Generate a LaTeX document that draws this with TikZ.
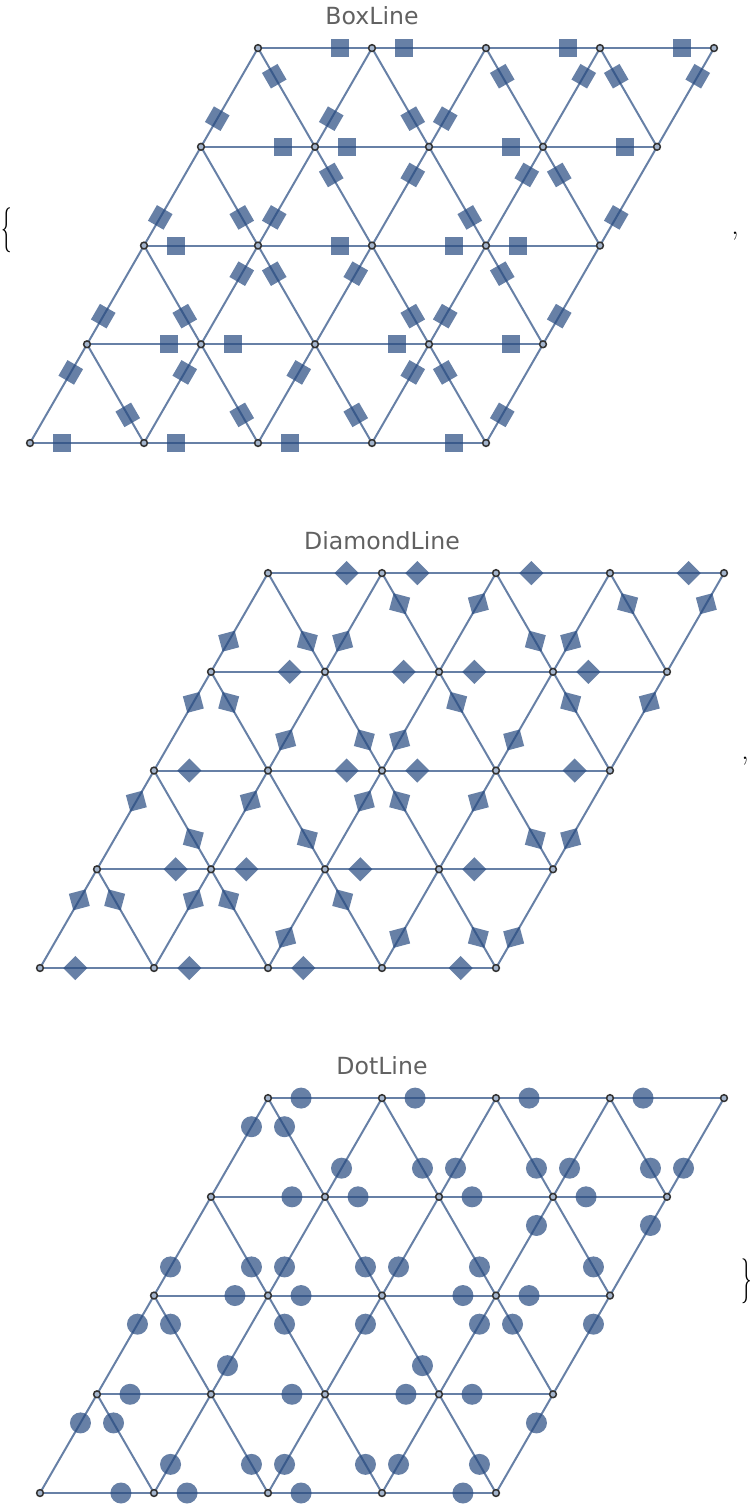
\documentclass[tikz,border=0pt]{standalone}
\usepackage{fontspec}
\usepackage{tikz}
\usetikzlibrary{shapes.geometric}
\newfontfamily\labelfont{DejaVu Sans}
\definecolor{edgeblue}{rgb}{0.15,0.29,0.5}
\definecolor{vertfill}{rgb}{0.64,0.704,0.8}
\definecolor{titlegray}{gray}{0.38}
\tikzset{
  edge/.style={line width=1pt,draw=edgeblue,draw opacity=0.7},
  vert/.style={circle,inner sep=0pt,minimum size=3.4pt,fill=vertfill,draw=black!80,line width=0.75pt},
  boxmark/.style={rectangle,sloped,inner sep=0pt,minimum size=9pt,fill=edgeblue,fill opacity=0.7},
  diamark/.style={diamond,aspect=1,sloped,inner sep=0pt,minimum size=12.5pt,fill=edgeblue,fill opacity=0.7},
  dotmark/.style={circle,inner sep=0pt,minimum size=10.5pt,fill=edgeblue,fill opacity=0.7},
  title/.style={font=\labelfont\fontsize{11.8}{14}\selectfont,text=titlegray,anchor=base},
  delim/.style={font=\fontsize{15}{18}\selectfont}
}

\begin{document}
\begin{tikzpicture}[x=0.5pt,y=-0.5pt]
  \useasboundingbox (0,0) rectangle (756,1512);
  \node[title] (tbox) at (372,24) {BoxLine};
  \node[title] (tdiamond) at (382,549) {DiamondLine};
  \node[title] (tdot) at (382,1074) {DotLine};
  \node[delim,xscale=0.7,yscale=1.5] (open) at (7,230) {\{};
  \node[delim] (sep1) at (735,236) {,};
  \node[delim] (sep2) at (745,761) {,};
  \node[delim,xscale=0.7,yscale=1.5] (close) at (747,1281) {\}};

  \foreach \p/\xo/\yo in {b/30/443,d/40/968,o/40/1493}
    \foreach \i in {0,...,4}
      \foreach \j in {0,...,4}
        \coordinate (\p-\i-\j) at ({\xo+114*\i+57*\j},{\yo-98.73*\j});

  % BoxLine
  \foreach \j/\row in {0/{0,0,0,1},1/{1,0,1,1},2/{0,1,1,0},3/{1,0,1,1},4/{1,0,1,1}}
    \foreach \t [count=\i from 0] in \row {
      \pgfmathtruncatemacro\k{\i+1}
      \pgfmathsetmacro\tp{0.285+0.43*\t}
      \draw[edge] (b-\i-\j) -- node[boxmark,pos=\tp]{} (b-\k-\j);
    }
  \foreach \j/\ur/\ul in {0/{1,1,1,1,0}/{0,0,0,1},1/{0,1,1,0,0}/{0,1,0,1},
                          2/{0,0,1,1,0}/{0,1,0,1},3/{0,0,0,1,1}/{1,0,1,1}}{
    \pgfmathtruncatemacro\m{\j+1}
    \foreach \t [count=\i from 0] in \ur {
      \pgfmathsetmacro\tp{0.285+0.43*\t}
      \draw[edge] (b-\i-\j) -- node[boxmark,pos=\tp]{} (b-\i-\m);
    }
    \foreach \t [count=\i from 1] in \ul {
      \pgfmathtruncatemacro\k{\i-1}
      \pgfmathsetmacro\tp{0.285+0.43*\t}
      \draw[edge] (b-\i-\j) -- node[boxmark,pos=\tp]{} (b-\k-\m);
    }
  }

  % DiamondLine
  \foreach \j/\row in {0/{0,0,0,1},1/{1,0,0,0},2/{0,1,0,1},3/{1,1,0,0},4/{1,0,0,1}}
    \foreach \t [count=\i from 0] in \row {
      \pgfmathtruncatemacro\k{\i+1}
      \pgfmathsetmacro\tp{0.31+0.38*\t}
      \draw[edge] (d-\i-\j) -- node[diamark,pos=\tp]{} (d-\k-\j);
    }
  \foreach \j/\ur/\ul in {0/{1,1,0,0,0}/{1,1,1,0},1/{1,1,1,1,0}/{0,0,1,0},
                          2/{1,0,0,0,1}/{1,0,1,1},3/{0,0,1,0,1}/{0,1,0,1}}{
    \pgfmathtruncatemacro\m{\j+1}
    \foreach \t [count=\i from 0] in \ur {
      \pgfmathsetmacro\tp{0.31+0.38*\t}
      \draw[edge] (d-\i-\j) -- node[diamark,pos=\tp]{} (d-\i-\m);
    }
    \foreach \t [count=\i from 1] in \ul {
      \pgfmathtruncatemacro\k{\i-1}
      \pgfmathsetmacro\tp{0.31+0.38*\t}
      \draw[edge] (d-\i-\j) -- node[diamark,pos=\tp]{} (d-\k-\m);
    }
  }

  % DotLine
  \foreach \j/\row in {0/{1,0,0,1},1/{0,1,1,0},2/{1,0,1,0},3/{1,0,0,0},4/{0,0,0,0}}
    \foreach \t [count=\i from 0] in \row {
      \pgfmathtruncatemacro\k{\i+1}
      \pgfmathsetmacro\tp{0.29+0.42*\t}
      \draw[edge] (o-\i-\j) -- node[dotmark,pos=\tp]{} (o-\k-\j);
    }
  \foreach \j/\ur/\ul in {0/{1,0,0,0,1}/{1,0,0,0},1/{1,0,1,1,1}/{1,1,0,1},
                          2/{0,0,0,1,1}/{0,0,0,0},3/{1,0,0,0,0}/{1,0,0,0}}{
    \pgfmathtruncatemacro\m{\j+1}
    \foreach \t [count=\i from 0] in \ur {
      \pgfmathsetmacro\tp{0.29+0.42*\t}
      \draw[edge] (o-\i-\j) -- node[dotmark,pos=\tp]{} (o-\i-\m);
    }
    \foreach \t [count=\i from 1] in \ul {
      \pgfmathtruncatemacro\k{\i-1}
      \pgfmathsetmacro\tp{0.29+0.42*\t}
      \draw[edge] (o-\i-\j) -- node[dotmark,pos=\tp]{} (o-\k-\m);
    }
  }

  \foreach \p in {b,d,o}
    \foreach \i in {0,...,4}
      \foreach \j in {0,...,4}
        \node[vert] (v\p\i\j) at (\p-\i-\j) {};
\end{tikzpicture}
\end{document}
